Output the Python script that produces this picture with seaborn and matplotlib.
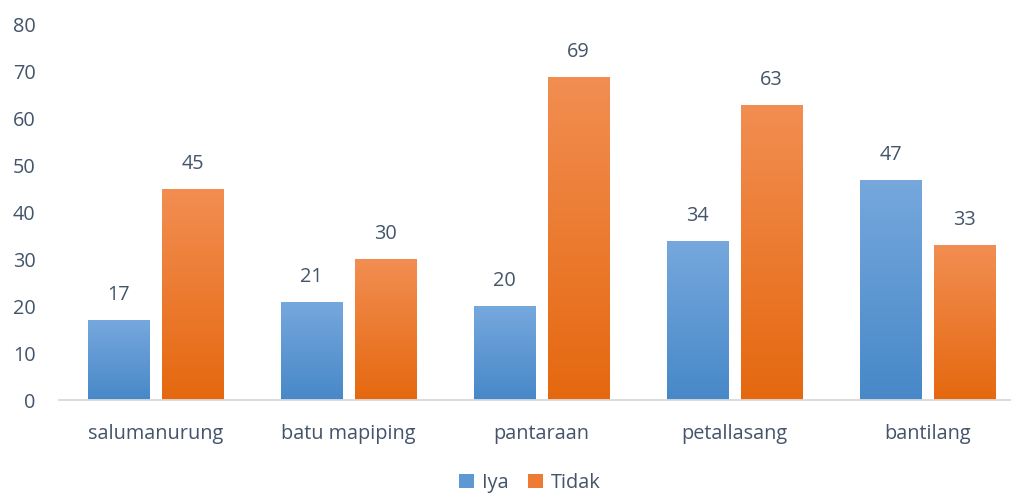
import numpy as np
import pandas as pd
import matplotlib
matplotlib.use("Agg")
import matplotlib.pyplot as plt
import seaborn as sns
from matplotlib.colors import LinearSegmentedColormap
from matplotlib.patches import Patch

categories = ["salumanurung", "batu mapiping", "pantaraan", "petallasang", "bantilang"]
iya = [17, 21, 20, 34, 47]
tidak = [45, 30, 69, 63, 33]
series = ["Iya", "Tidak"]
yticks = [0, 10, 20, 30, 40, 50, 60, 70, 80]

# gradient ends (top, bottom) for each series
grad = {
    "Iya": ("#76A8DD", "#4788C8"),
    "Tidak": ("#F28E52", "#E5680F"),
}
text_color = "#44546A"
fs = 14.3

df = pd.DataFrame({
    "category": categories * 2,
    "series": ["Iya"] * len(categories) + ["Tidak"] * len(categories),
    "value": iya + tidak,
})

sns.set_theme(style="white")
plt.rcParams["font.family"] = ["Open Sans", "DejaVu Sans"]

fig = plt.figure(figsize=(10.11, 4.93), dpi=100)
W, H = 1011, 493
ax = fig.add_axes([59 / W, (H - 400) / H, (1011 - 59) / W, (400 - 25) / H])

sns.barplot(data=df, x="category", y="value", hue="series", order=categories,
            hue_order=series, width=0.767, gap=0.175, ax=ax, legend=False,
            saturation=1,
            palette={"Iya": grad["Iya"][1], "Tidak": grad["Tidak"][1]},
            err_kws={"linewidth": 0})

# repaint each bar with a vertical gradient and add value label
img = np.linspace(0, 1, 256).reshape(-1, 1)
for s, container in zip(series, ax.containers):
    cmap = LinearSegmentedColormap.from_list(s, [grad[s][1], grad[s][0]])
    for p in container:
        x0, w, h = p.get_x(), p.get_width(), p.get_height()
        im = ax.imshow(img, cmap=cmap, origin="lower", aspect="auto",
                       extent=[x0, x0 + w, 0, h], zorder=2)
        im.set_clip_path(p)
        p.set_facecolor("none")
        p.set_edgecolor("none")
        ax.annotate(f"{int(round(h))}", (x0 + w / 2, h), xytext=(0, 15),
                    textcoords="offset pixels", ha="center", va="bottom",
                    fontsize=fs, color=text_color)

ax.set_xlim(-0.5, (1011 - 155.5) / 193)
ax.set_ylim(0, 80)
ax.set_yticks(yticks)
ax.set_yticklabels([str(t) for t in yticks])

for side in ["left", "right", "top"]:
    ax.spines[side].set_visible(False)
ax.spines["bottom"].set_color("#D9D9D9")
ax.spines["bottom"].set_linewidth(1.3)
ax.grid(False)
ax.set_xlabel("")
ax.set_ylabel("")
ax.tick_params(axis="both", length=0, labelsize=fs, labelcolor=text_color)
ax.tick_params(axis="y", pad=17)
ax.tick_params(axis="x", pad=17)

handles = [Patch(facecolor="#5E98D4", edgecolor="none", label="Iya"),
           Patch(facecolor="#EE7B34", edgecolor="none", label="Tidak")]
fig.legend(handles=handles, loc="center", bbox_to_anchor=(530 / W, 1 - 483 / H),
           ncol=2, frameon=False, fontsize=fs, labelcolor=text_color,
           handlelength=0.75, handleheight=0.75, handletextpad=0.4, columnspacing=1.0)

fig.savefig("out.png", dpi=100)
